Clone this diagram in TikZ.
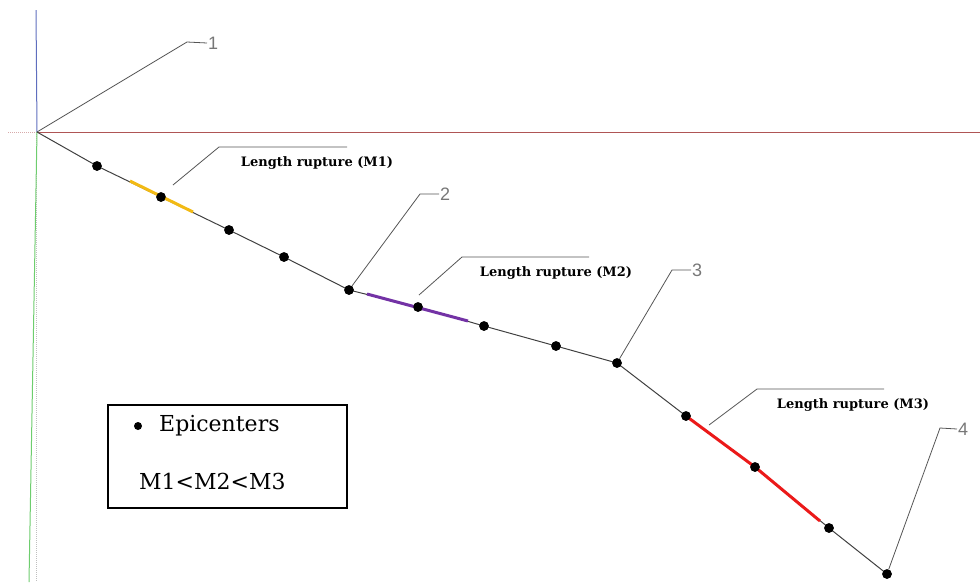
\documentclass[tikz,border=0pt]{standalone}
\usepackage{fontspec}
\setmainfont{DejaVu Serif}
\newfontfamily\numfont{Liberation Sans}
\usetikzlibrary{positioning}
\definecolor{AxisBlue}{RGB}{95,110,190}
\definecolor{AxisRed}{RGB}{175,85,85}
\definecolor{AxisGreen}{RGB}{110,205,110}
\definecolor{LeaderGray}{RGB}{85,85,85}
\definecolor{RupYellow}{RGB}{242,186,20}
\definecolor{RupPurple}{RGB}{115,50,165}
\definecolor{RupRed}{RGB}{235,25,25}
\tikzset{
  epi/.style={circle, fill=black, inner sep=0pt, minimum size=9.5pt},
  fault/.style={draw=black!75, line width=1pt},
  rupture/.style={line width=3pt},
  leader/.style={draw=LeaderGray, line width=0.8pt},
  numlbl/.style={font=\numfont\fontsize{18}{20}\selectfont, text=LeaderGray!80, inner sep=1pt},
  ruplbl/.style={font=\bfseries\fontsize{13}{15}\selectfont, inner sep=0pt},
  legtxt/.style={anchor=west, font=\fontsize{22}{25}\selectfont, inner sep=0pt}
}
\begin{document}
\begin{tikzpicture}[x=1pt, y=-1pt]
  \useasboundingbox (0,0) rectangle (980,582);
  % axes
  \coordinate (o) at (37,132);
  \draw[AxisBlue, line width=1pt] (36,10) -- (o);
  \draw[AxisRed, line width=1pt] (o) -- (980,132);
  \draw[AxisRed!50, densely dotted, line width=1pt] (8,132) -- (o);
  \draw[gray!50, densely dotted, line width=1pt] (36,132) -- (36,582);
  \draw[AxisGreen, line width=1pt] (o) -- (29,582);
  % epicenters along the fault trace
  \node[epi] (e1) at (97,166) {};
  \node[epi] (e2) at (161,197) {};
  \node[epi] (e3) at (229,230) {};
  \node[epi] (e4) at (284,257) {};
  \node[epi] (e5) at (349,290) {};
  \node[epi] (e6) at (418,307) {};
  \node[epi] (e7) at (484,326) {};
  \node[epi] (e8) at (556,346) {};
  \node[epi] (e9) at (617,363) {};
  \node[epi] (e10) at (686,416) {};
  \node[epi] (e11) at (755,467) {};
  \node[epi] (e12) at (829,528) {};
  \node[epi] (e13) at (887,574) {};
  \draw[fault] (o) -- (e1.center) -- (e2.center) -- (e3.center) -- (e4.center)
    -- (e5.center) -- (e6.center) -- (e7.center) -- (e8.center) -- (e9.center)
    -- (e10.center) -- (e11.center) -- (e12.center) -- (e13.center);
  % rupture lengths
  \coordinate (ya) at (130,181); \coordinate (yb) at (193,212);
  \coordinate (pa) at (367,294); \coordinate (pb) at (468,321);
  \coordinate (rb) at (820,521);
  \draw[rupture, RupYellow] (ya) -- (yb);
  \draw[rupture, RupPurple] (pa) -- (pb);
  \draw[rupture, RupRed, line join=round] (e10.center) -- (e11.center) -- (rb);
  \foreach \i in {1,...,13} \node[epi] at (e\i) {};
  % numbered points
  \node[numlbl, anchor=west] (n1) at (207,43) {1};
  \node[numlbl, anchor=west] (n2) at (439,194) {2};
  \node[numlbl, anchor=west] (n3) at (691,270) {3};
  \node[numlbl, anchor=west] (n4) at (957,429) {4};
  \draw[leader] (o) -- (187,42) -- (n1.west);
  \draw[leader] (e5) -- (420,194) -- (n2.west);
  \draw[leader] (e9) -- (672,270) -- (n3.west);
  \draw[leader] (e13) -- (940,428) -- (n4.west);
  % rupture labels
  \node[ruplbl] (m1) at (317,163) {Length rupture (M1)};
  \node[ruplbl] (m2) at (556,273) {Length rupture (M2)};
  \node[ruplbl] (m3) at (853,405) {Length rupture (M3)};
  \draw[leader] (173,185) -- (219,147) -- (347,147);
  \draw[leader] (419,295) -- (462,257) -- (589,257);
  \draw[leader] (709,425) -- (757,389) -- (884,389);
  % legend
  \node[draw, line width=1.5pt, minimum width=239pt, minimum height=103pt] (leg) at (227.5,456.5) {};
  \node[circle, fill=black, inner sep=0pt, minimum size=8pt] (ld) at (138,426) {};
  \node[legtxt] (lt) at (159,426) {Epicenters};
  \node[legtxt] (lm) at (139,481) {M1<M2<M3};
\end{tikzpicture}
\end{document}
